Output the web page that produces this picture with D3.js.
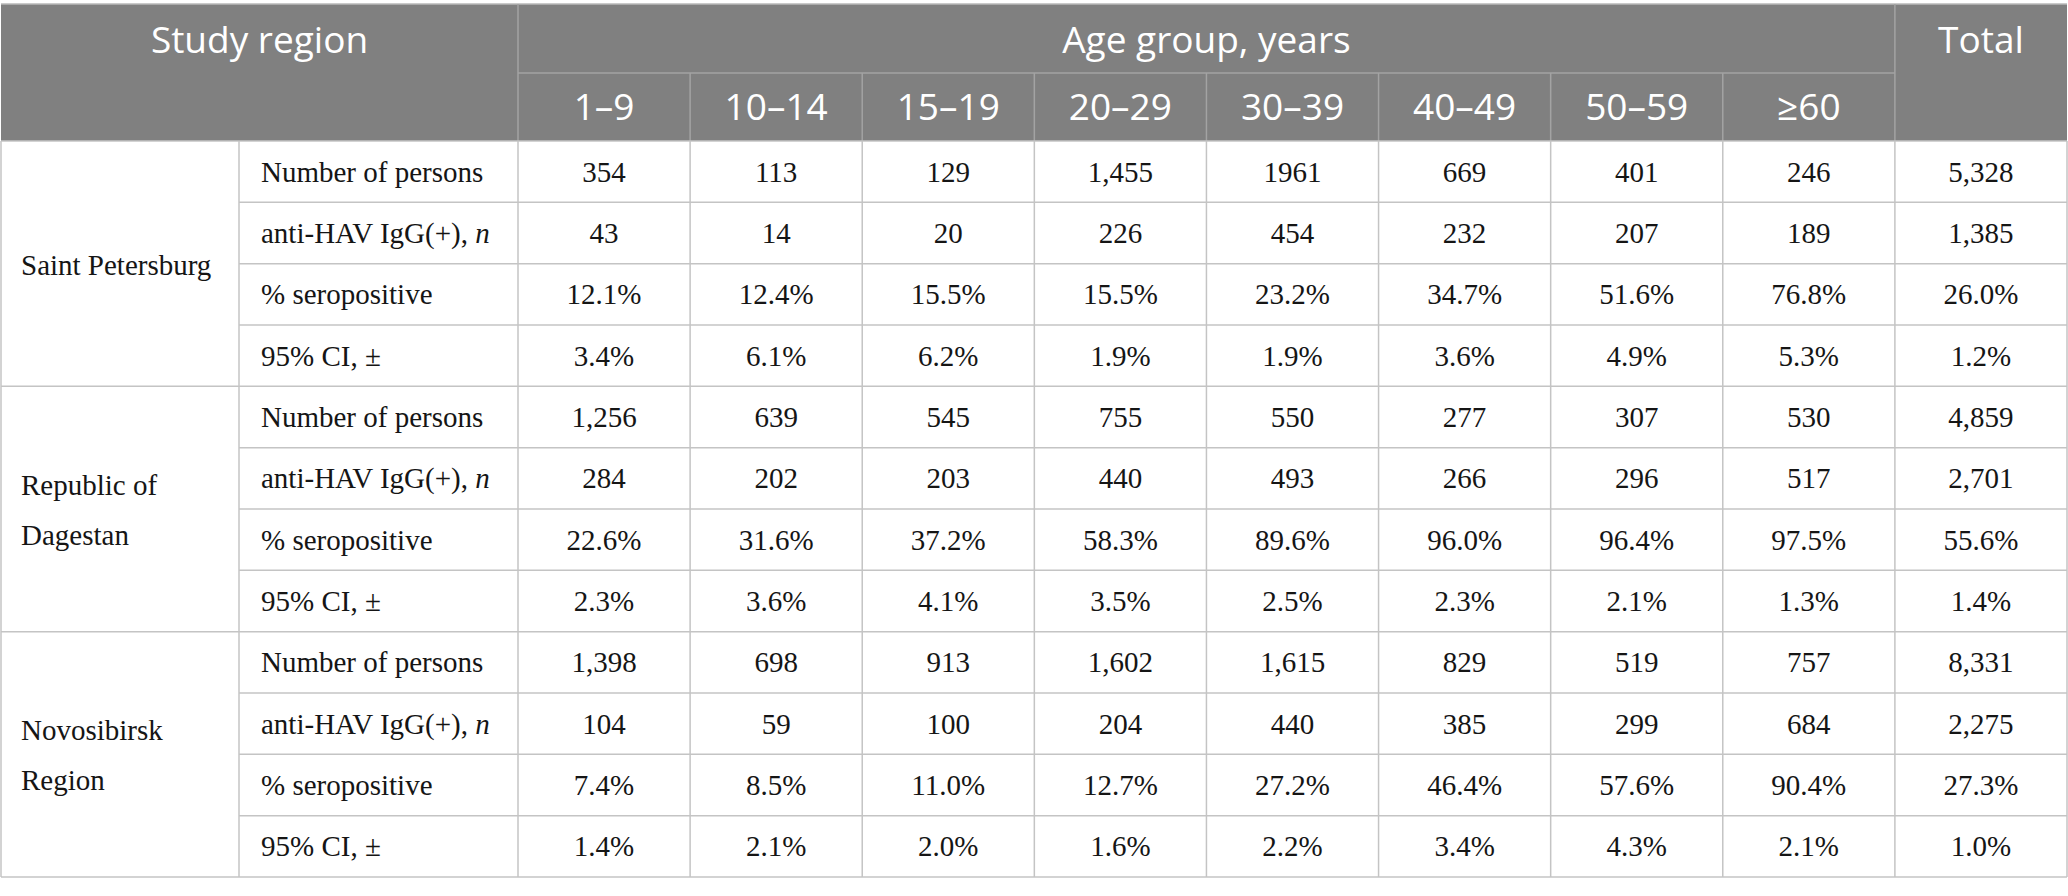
<!DOCTYPE html>
<html>
<head>
<meta charset="utf-8">
<script src="https://cdn.jsdelivr.net/npm/d3@7"></script>
<style>
  html, body { margin: 0; padding: 0; background: #ffffff; }
  svg { display: block; }
</style>
</head>
<body>
<svg id="chart" width="2068" height="896"></svg>
<script>
// ---------- data ----------
const headerLeft = "Study region";
const headerGroup = "Age group, years";
const headerTotal = "Total";
const ageGroups = ["1–9", "10–14", "15–19", "20–29", "30–39", "40–49", "50–59", "≥60"];
const columns = ageGroups.concat(["Total"]);

const regions = ["Saint Petersburg", "Republic of Dagestan", "Novosibirsk Region"];
const regionLines = [["Saint Petersburg"], ["Republic of", "Dagestan"], ["Novosibirsk", "Region"]];
const measures = ["Number of persons", "anti-HAV IgG(+), n", "% seropositive", "95% CI, ±"];

// Saint Petersburg
const spbPersons  = ["354", "113", "129", "1,455", "1961", "669", "401", "246", "5,328"];
const spbPositive = ["43", "14", "20", "226", "454", "232", "207", "189", "1,385"];
const spbPercent  = ["12.1%", "12.4%", "15.5%", "15.5%", "23.2%", "34.7%", "51.6%", "76.8%", "26.0%"];
const spbCI       = ["3.4%", "6.1%", "6.2%", "1.9%", "1.9%", "3.6%", "4.9%", "5.3%", "1.2%"];
// Republic of Dagestan
const dagPersons  = ["1,256", "639", "545", "755", "550", "277", "307", "530", "4,859"];
const dagPositive = ["284", "202", "203", "440", "493", "266", "296", "517", "2,701"];
const dagPercent  = ["22.6%", "31.6%", "37.2%", "58.3%", "89.6%", "96.0%", "96.4%", "97.5%", "55.6%"];
const dagCI       = ["2.3%", "3.6%", "4.1%", "3.5%", "2.5%", "2.3%", "2.1%", "1.3%", "1.4%"];
// Novosibirsk Region
const nskPersons  = ["1,398", "698", "913", "1,602", "1,615", "829", "519", "757", "8,331"];
const nskPositive = ["104", "59", "100", "204", "440", "385", "299", "684", "2,275"];
const nskPercent  = ["7.4%", "8.5%", "11.0%", "12.7%", "27.2%", "46.4%", "57.6%", "90.4%", "27.3%"];
const nskCI       = ["1.4%", "2.1%", "2.0%", "1.6%", "2.2%", "3.4%", "4.3%", "2.1%", "1.0%"];

const regionData = [
  [spbPersons, spbPositive, spbPercent, spbCI],
  [dagPersons, dagPositive, dagPercent, dagCI],
  [nskPersons, nskPositive, nskPercent, nskCI]
];

// ---------- layout ----------
const tLeft = 1, tRight = 2067;
const tTop = 4, headerMid = 73, headerBottom = 141, tBottom = 877;
const labelColX = 239, dataX0 = 518;

const headerFill = "#808080";
const headerLine = "#a3a3a3";
const gridLine = "#c4c4c4";
const sansFont = "'Open Sans', 'Noto Sans', sans-serif";
const serifFont = "'Liberation Serif', 'DejaVu Serif', serif";

const svg = d3.select("#chart");

const rowKeys = [];
regions.forEach((r, ri) => measures.forEach((m, mi) => rowKeys.push(ri + "-" + mi)));

const x = d3.scaleBand().domain(columns).range([dataX0, tRight]);
const y = d3.scaleBand().domain(rowKeys).range([headerBottom, tBottom]);
const yRegion = d3.scaleBand().domain(regions).range([headerBottom, tBottom]);

// ---------- header ----------
const gh = svg.append("g");
gh.append("rect").attr("x", tLeft).attr("y", tTop).attr("width", tRight - tLeft).attr("height", headerBottom - tTop)
  .attr("fill", headerFill);

gh.append("line").attr("x1", tLeft).attr("x2", tRight).attr("y1", tTop).attr("y2", tTop)
  .attr("stroke", "#b8b8b8").attr("stroke-width", 1.5);
gh.append("line").attr("x1", dataX0).attr("x2", x("Total")).attr("y1", headerMid).attr("y2", headerMid)
  .attr("stroke", headerLine).attr("stroke-width", 1.5);
gh.append("line").attr("x1", dataX0).attr("x2", dataX0).attr("y1", tTop).attr("y2", headerBottom)
  .attr("stroke", headerLine).attr("stroke-width", 1.5);
gh.append("line").attr("x1", x("Total")).attr("x2", x("Total")).attr("y1", tTop).attr("y2", headerBottom)
  .attr("stroke", headerLine).attr("stroke-width", 1.5);
gh.selectAll("line.sub").data(ageGroups.slice(1)).join("line").attr("class", "sub")
  .attr("x1", d => x(d)).attr("x2", d => x(d)).attr("y1", headerMid).attr("y2", headerBottom)
  .attr("stroke", headerLine).attr("stroke-width", 1.5);

const hFont = 37;
gh.append("text").text(headerLeft)
  .attr("x", (tLeft + dataX0) / 2).attr("y", (tTop + headerMid) / 2 + 14)
  .attr("text-anchor", "middle").attr("fill", "#ffffff")
  .style("font-family", sansFont).style("font-size", hFont + "px");
gh.append("text").text(headerGroup)
  .attr("x", (dataX0 + x("Total")) / 2).attr("y", (tTop + headerMid) / 2 + 14)
  .attr("text-anchor", "middle").attr("fill", "#ffffff")
  .style("font-family", sansFont).style("font-size", hFont + "px");
gh.append("text").text(headerTotal)
  .attr("x", x("Total") + x.bandwidth() / 2).attr("y", (tTop + headerMid) / 2 + 14)
  .attr("text-anchor", "middle").attr("fill", "#ffffff")
  .style("font-family", sansFont).style("font-size", hFont + "px");
gh.selectAll("text.age").data(ageGroups).join("text").attr("class", "age")
  .text(d => d)
  .attr("x", d => x(d) + x.bandwidth() / 2).attr("y", (headerMid + headerBottom) / 2 + 13)
  .attr("text-anchor", "middle").attr("fill", "#ffffff")
  .style("font-family", sansFont).style("font-size", hFont + "px");

// ---------- body ----------
const gb = svg.append("g");
const bFont = 29;

gb.selectAll("line.row").data(rowKeys).join("line").attr("class", "row")
  .attr("x1", d => d.endsWith("-0") ? tLeft : labelColX).attr("x2", tRight)
  .attr("y1", d => y(d)).attr("y2", d => y(d))
  .attr("stroke", gridLine).attr("stroke-width", 1.5);
gb.append("line").attr("x1", tLeft).attr("x2", tRight).attr("y1", tBottom).attr("y2", tBottom)
  .attr("stroke", gridLine).attr("stroke-width", 1.5);

const vxs = [tLeft, labelColX].concat(columns.map(c => x(c))).concat([tRight]);
gb.selectAll("line.col").data(vxs).join("line").attr("class", "col")
  .attr("x1", d => d).attr("x2", d => d).attr("y1", headerBottom).attr("y2", tBottom)
  .attr("stroke", gridLine).attr("stroke-width", 1.5);

// region labels
regions.forEach((r, ri) => {
  const lines = regionLines[ri];
  const cy = yRegion(r) + yRegion.bandwidth() / 2;
  const lh = 50;
  lines.forEach((ln, li) => {
    gb.append("text").text(ln)
      .attr("x", 21).attr("y", cy + (li - (lines.length - 1) / 2) * lh + 11)
      .attr("fill", "#151515")
      .style("font-family", serifFont).style("font-size", bFont + "px");
  });
});

// measure labels
rowKeys.forEach(k => {
  const mi = +k.split("-")[1];
  const t = gb.append("text")
    .attr("x", 261).attr("y", y(k) + y.bandwidth() / 2 + 10)
    .attr("fill", "#151515")
    .style("font-family", serifFont).style("font-size", bFont + "px");
  const label = measures[mi];
  if (label.endsWith(", n")) {
    t.append("tspan").text(label.slice(0, -1));
    t.append("tspan").text("n").style("font-style", "italic");
  } else {
    t.text(label);
  }
});

// values
rowKeys.forEach(k => {
  const [ri, mi] = k.split("-").map(Number);
  const vals = regionData[ri][mi];
  gb.selectAll(null).data(columns).join("text")
    .text((c, i) => vals[i])
    .attr("x", c => x(c) + x.bandwidth() / 2)
    .attr("y", y(k) + y.bandwidth() / 2 + 10)
    .attr("text-anchor", "middle").attr("fill", "#151515")
    .style("font-family", serifFont).style("font-size", bFont + "px");
});
</script>
</body>
</html>
